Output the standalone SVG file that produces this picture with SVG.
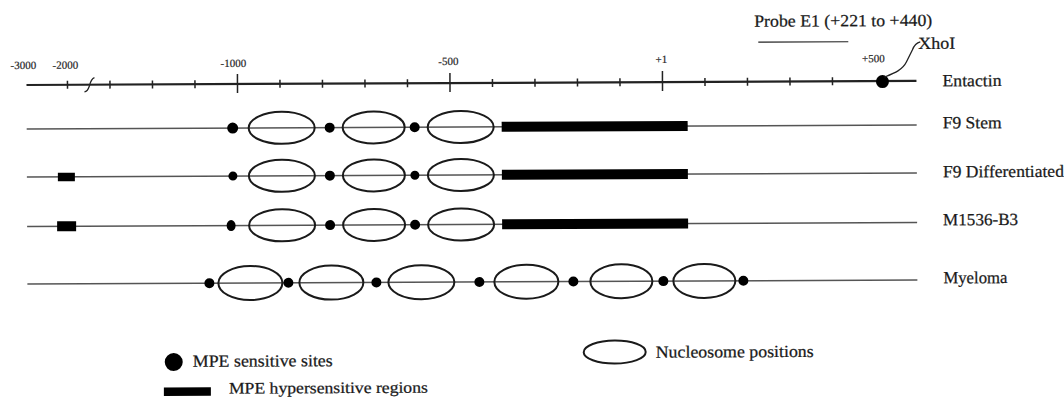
<svg xmlns="http://www.w3.org/2000/svg" width="1064" height="399" viewBox="0 0 1064 399">
<style>
text{font-family:"Liberation Serif","Times New Roman",serif;fill:#1a1a1a}
.lbl{font-size:17px;stroke:#1a1a1a;stroke-width:0.25}
.tk{font-size:11px;text-anchor:middle;stroke:#333;stroke-width:0.2}
.ax{stroke:#222;stroke-width:2.2;fill:none}
.tick{stroke:#222;stroke-width:1.5}
.row{stroke:#555;stroke-width:1.5;fill:none}
.nuc{fill:none;stroke:#1a1a1a;stroke-width:2}
.site{fill:#000}
.hyp{fill:#000}
</style>
<rect width="1064" height="399" fill="#fff"/>
<g transform="rotate(-0.26 27 200)">
<g id="axis">
<line class="ax" x1="27" y1="85" x2="917" y2="85"/>
<g class="tick">
<line x1="68" y1="81" x2="68" y2="89"/>
<line x1="110.5" y1="81" x2="110.5" y2="89"/>
<line x1="153" y1="81" x2="153" y2="89"/>
<line x1="195.5" y1="81" x2="195.5" y2="89"/>
<line x1="238" y1="75" x2="238" y2="94"/>
<line x1="280.5" y1="81" x2="280.5" y2="89"/>
<line x1="323" y1="81" x2="323" y2="89"/>
<line x1="365.5" y1="81" x2="365.5" y2="89"/>
<line x1="408" y1="81" x2="408" y2="89"/>
<line x1="450.5" y1="75" x2="450.5" y2="94"/>
<line x1="493" y1="81" x2="493" y2="89"/>
<line x1="535.5" y1="81" x2="535.5" y2="89"/>
<line x1="578" y1="81" x2="578" y2="89"/>
<line x1="620.5" y1="81" x2="620.5" y2="89"/>
<line x1="663" y1="74" x2="663" y2="94"/>
<line x1="705.5" y1="81" x2="705.5" y2="89"/>
<line x1="748" y1="81" x2="748" y2="89"/>
<line x1="790.5" y1="81" x2="790.5" y2="89"/>
<line x1="833" y1="81" x2="833" y2="89"/>
</g>
<path d="M85,92 C88,92 89,89 90,86 C91,82 92,79 95,78" fill="none" stroke="#222" stroke-width="1.3"/>
<text class="tk" x="24" y="69">-3000</text>
<text class="tk" x="66" y="69">-2000</text>
<text class="tk" x="234" y="68">-1000</text>
<text class="tk" x="449" y="67">-500</text>
<text class="tk" x="662" y="66">+1</text>
<text class="tk" x="874" y="66">+500</text>
<circle class="site" cx="883" cy="85.5" r="6.5"/>
<text class="lbl" x="943" y="90.5" textLength="59" lengthAdjust="spacingAndGlyphs">Entactin</text>
</g>
<g id="probe">
<line x1="759" y1="45.5" x2="849" y2="45.5" stroke="#222" stroke-width="1.2"/>
<text class="lbl" x="755" y="30" textLength="178" lengthAdjust="spacingAndGlyphs">Probe E1 (+221 to +440)</text>
<text class="lbl" x="919" y="53" textLength="37" lengthAdjust="spacingAndGlyphs">XhoI</text>
</g>
<g id="connectors">
<path d="M885,81 C895,77 903,74 907,66 L913,54 C915,49 917,47 921,46" fill="none" stroke="#222" stroke-width="1.3"/>
</g>
<g id="f9-stem">
<line class="row" x1="27" y1="129" x2="917" y2="129"/>
<ellipse class="nuc" cx="282" cy="129" rx="33" ry="16"/>
<ellipse class="nuc" cx="374" cy="129" rx="31" ry="16"/>
<ellipse class="nuc" cx="461" cy="129" rx="33" ry="16"/>
<circle class="site" cx="233" cy="129" r="5.5"/>
<circle class="site" cx="330" cy="129" r="5"/>
<circle class="site" cx="415" cy="129" r="5"/>
<rect class="hyp" x="502" y="124" width="186" height="10"/>
<text class="lbl" x="943" y="132.5" textLength="59" lengthAdjust="spacingAndGlyphs">F9 Stem</text>
</g>
<g id="f9-differentiated">
<line class="row" x1="27" y1="177" x2="917" y2="177"/>
<rect class="hyp" x="58" y="173" width="17" height="8.5"/>
<ellipse class="nuc" cx="282" cy="177" rx="33" ry="16"/>
<ellipse class="nuc" cx="374" cy="177" rx="31" ry="16"/>
<ellipse class="nuc" cx="461" cy="177" rx="33" ry="16"/>
<circle class="site" cx="233" cy="177" r="4.5"/>
<circle class="site" cx="330" cy="177" r="5"/>
<circle class="site" cx="415" cy="177" r="4.5"/>
<rect class="hyp" x="502" y="172" width="186" height="10"/>
<text class="lbl" x="943" y="181.5" textLength="121" lengthAdjust="spacingAndGlyphs">F9 Differentiated</text>
</g>
<g id="m1536-b3">
<line class="row" x1="27" y1="226.5" x2="917" y2="226.5"/>
<rect class="hyp" x="57" y="221.5" width="19" height="10"/>
<ellipse class="nuc" cx="282" cy="226.5" rx="33" ry="16"/>
<ellipse class="nuc" cx="374" cy="226.5" rx="31" ry="16"/>
<ellipse class="nuc" cx="461" cy="226.5" rx="33" ry="16"/>
<ellipse class="site" cx="231" cy="226.5" rx="4.5" ry="5.5"/>
<circle class="site" cx="330" cy="226.5" r="5"/>
<circle class="site" cx="415" cy="226.5" r="5"/>
<rect class="hyp" x="502" y="221.5" width="186" height="10"/>
<text class="lbl" x="943" y="229.5" textLength="75" lengthAdjust="spacingAndGlyphs">M1536-B3</text>
</g>
<g id="myeloma">
<line class="row" x1="27" y1="284" x2="917" y2="284"/>
<ellipse class="nuc" cx="250" cy="284" rx="32" ry="17"/>
<ellipse class="nuc" cx="331" cy="284" rx="32" ry="17"/>
<ellipse class="nuc" cx="421" cy="284" rx="33" ry="17"/>
<ellipse class="nuc" cx="526" cy="284" rx="32" ry="17"/>
<ellipse class="nuc" cx="621" cy="284" rx="31" ry="17"/>
<ellipse class="nuc" cx="704" cy="284" rx="31" ry="17"/>
<circle class="site" cx="209" cy="284" r="5"/>
<circle class="site" cx="288" cy="284" r="5"/>
<circle class="site" cx="376" cy="284" r="5"/>
<circle class="site" cx="479" cy="284" r="5"/>
<circle class="site" cx="573" cy="284" r="5"/>
<circle class="site" cx="663" cy="284" r="5"/>
<circle class="site" cx="743" cy="284" r="5"/>
<text class="lbl" x="943" y="287.5" textLength="64" lengthAdjust="spacingAndGlyphs">Myeloma</text>
</g>
<g id="legend-sites">
<circle class="site" cx="173" cy="362.7" r="9"/>
<text class="lbl" x="192" y="367.5" textLength="140" lengthAdjust="spacingAndGlyphs">MPE sensitive sites</text>
</g>
<g id="legend-hypersensitive">
<rect class="hyp" x="163" y="388" width="47" height="8.5"/>
<text class="lbl" x="228" y="394.5" style="font-size:16px" textLength="199" lengthAdjust="spacingAndGlyphs">MPE hypersensitive regions</text>
</g>
<g id="legend-nucleosome">
<ellipse class="nuc" cx="614" cy="354.7" rx="31" ry="11.5"/>
<text class="lbl" x="655" y="360.5" textLength="158" lengthAdjust="spacingAndGlyphs">Nucleosome positions</text>
</g>
</g>
</svg>
